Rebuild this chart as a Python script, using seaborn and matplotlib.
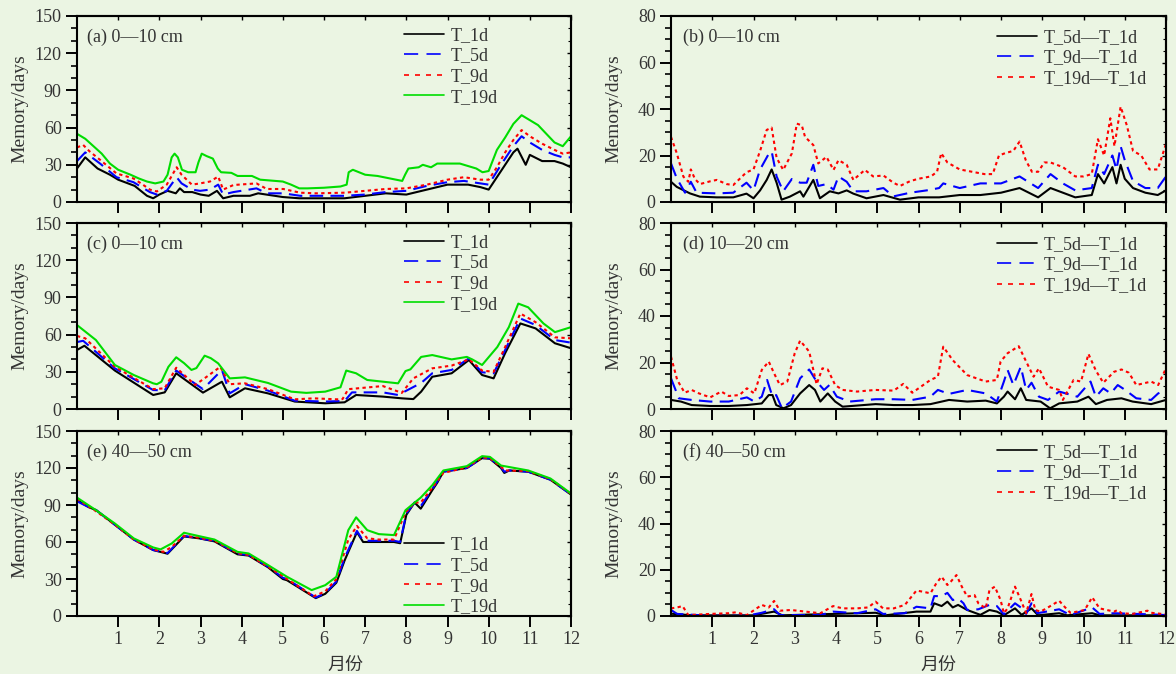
import numpy as np
import pandas as pd
import matplotlib
matplotlib.use('Agg')
import matplotlib.pyplot as plt
from matplotlib.lines import Line2D
from matplotlib.ticker import MultipleLocator
import seaborn as sns

# ---------------- data: (month, memory days) ----------------
# panel (a) 0-10 cm
A_T1D = [(0,27),(0.2,36),(0.5,27),(0.8,22),(1.0,18),(1.4,13),(1.7,5),(1.85,3),(2.0,6),(2.2,9),(2.4,7),(2.5,11),(2.6,8),
         (2.8,8),(3.0,6),(3.2,5),(3.4,9),(3.55,3),(3.8,5),(4.2,5),(4.4,7),(4.8,5),(5.0,4),(5.4,3),(6.5,3),(7.0,5),(7.5,7),
         (8.0,6),(8.5,10),(9.0,14),(9.5,14),(9.8,12),(10.0,10),(10.3,25),(10.6,40),(10.7,43),(10.9,30),(11.0,38),(11.3,33),
         (11.6,33),(11.8,31),(12.0,28)]
A_T5D = [(0,33),(0.2,40),(0.56,31),(0.96,20),(1.37,16),(1.77,8),(1.94,6),(2.18,9),(2.42,20),(2.54,15),(2.79,10),(2.99,9),
         (3.23,10),(3.43,14),(3.55,6),(3.8,8),(4.36,11),(4.61,7),(5.01,7),(5.42,5),(6.5,5),(7.0,6),(7.5,8),(8.0,9),(8.5,13),
         (9.0,16),(9.4,17),(9.8,15),(10.0,14),(10.3,30),(10.6,45),(10.8,53),(11.0,48),(11.3,42),(11.6,38),(11.8,36),(12.0,36)]
A_T9D = [(0,44),(0.15,46),(0.3,41),(0.56,34),(0.96,23),(1.37,19),(1.6,14),(1.77,10),(1.94,8.5),(2.18,14),(2.42,28),
         (2.54,22),(2.79,14),(2.99,15),(3.23,16.5),(3.43,20.5),(3.55,10),(3.8,13.7),(4.36,15),(4.61,10.5),(5.01,10.5),
         (5.42,7.5),(5.8,7),(6.5,7.5),(7.0,9),(7.5,10.5),(8.0,11),(8.5,14),(9.0,18),(9.4,20),(9.8,18),(10.0,18),(10.2,28),
         (10.4,40),(10.6,50),(10.8,58),(11.0,53),(11.3,47),(11.6,42),(11.8,39),(12.0,40)]
A_T19D = [(0,55),(0.2,51),(0.4,45),(0.6,39),(0.8,31),(1.0,26),(1.3,22),(1.5,19),(1.7,16.5),(1.9,15),(2.1,16.5),(2.2,22),
          (2.3,36),(2.37,39),(2.45,36),(2.55,26),(2.7,24),(2.88,24),(2.95,32),(3.03,39),(3.15,37),(3.3,35),(3.42,27),
          (3.5,24),(3.75,23.5),(3.9,21),(4.25,21),(4.45,18),(5.0,16.5),(5.2,14),(5.4,11),(5.6,11),(6.0,11.5),(6.4,12.5),
          (6.55,14),(6.6,24),(6.7,26),(7.0,22),(7.3,21),(7.6,19),(7.9,17),(7.97,22),(8.05,27),(8.3,28),(8.4,30),(8.6,28),
          (8.75,31),(9.0,31),(9.3,31),(9.5,29),(9.7,27),(9.85,24),(10.0,25),(10.2,42),(10.4,52),(10.6,63),(10.8,70),
          (11.0,66),(11.2,62),(11.4,55),(11.6,48),(11.8,45),(12.0,53)]

# panel (c)
C_T1D = [(0,47.6),(0.18,51),(0.92,31),(1.85,11.3),(2.13,13.4),(2.41,28.8),(3.06,13.2),(3.52,22),(3.71,9.4),(4.08,16.7),
         (4.64,12.6),(5.29,6),(6.03,4.6),(6.5,5.4),(6.78,11.3),(7.43,10),(7.89,8.6),(8.17,8),(8.36,14),(8.63,26),(9.1,28.8),
         (9.52,39.5),(9.84,27.4),(10.12,24.7),(10.4,45),(10.77,69),(11.14,65),(11.61,53),(12,49)]
C_T5D = [(0,54),(0.15,55),(0.92,32.8),(1.85,15.3),(2.13,15),(2.41,31),(3.06,16),(3.52,31.5),(3.71,12.6),(4.08,20),
         (4.64,14.8),(5.29,6.7),(6.03,6),(6.5,6.5),(6.68,13.4),(7.43,13.4),(7.8,11.3),(8.36,21),(8.63,28.8),(9.1,31.5),
         (9.52,40.8),(9.84,29.6),(10.12,28.8),(10.4,47.6),(10.77,73),(11.14,67.7),(11.61,55.6),(12,53.5)]
C_T9D = [(0,58.9),(0.2,57),(0.92,34),(1.85,16),(2.13,16.7),(2.41,33.3),(2.87,19.4),(3.15,26),(3.48,34),(3.71,20),
         (4.08,20.7),(4.64,16),(5.29,7.8),(5.75,8.6),(6.31,7.8),(6.45,8),(6.59,16),(7.43,18.5),(7.89,13),(8.17,24.7),
         (8.63,32.8),(9.1,35),(9.52,40),(9.84,31),(10.12,30),(10.4,50),(10.77,77),(11.14,70),(11.61,57.8),(12,57)]
C_T19D = [(0,67.7),(0.46,55.6),(0.92,35.5),(1.38,27.4),(1.85,20.7),(1.94,20),(2.05,22),(2.22,34),(2.41,41.7),(2.6,37),
          (2.78,31.5),(2.9,33),(3.1,43),(3.25,41),(3.43,36.8),(3.71,24.7),(4.08,25.5),(4.64,21),(5.2,14),(5.57,13),
          (6.03,14),(6.4,17.5),(6.54,31),(6.78,28.8),(7.05,23.4),(7.8,20.7),(7.98,30.6),(8.1,32),(8.36,42),(8.63,43.5),
          (9.1,40),(9.47,42),(9.6,40),(9.84,35.5),(10.21,50),(10.49,66),(10.72,85),(10.96,82),(11.33,69),(11.61,62),(12,66)]

# panel (e) 40-50 cm
E_T1D = [(0,94),(0.3,88),(0.46,86),(0.92,74),(1.38,62),(1.85,53.5),(2.2,50.5),(2.6,64.5),(2.96,63),(3.34,60.5),(3.9,50),
         (4.17,49),(4.64,39.5),(5.0,30),(5.1,29),(5.8,14.5),(6.03,18),(6.3,27),(6.5,45),(6.8,68),(6.95,60),(7.33,60),
         (7.7,60),(7.85,59),(8.0,82),(8.2,92),(8.35,87),(8.63,102),(8.75,108),(8.9,117),(9.47,120),(9.84,128),(10.03,127.5),
         (10.3,120),(10.38,116),(10.5,118),(10.96,117),(11.5,110.5),(12,98.5)]
E_T5D = [(0,93),(0.3,88),(0.46,86),(0.92,74),(1.38,62),(1.85,53.5),(2.2,51),(2.6,65),(2.96,63),(3.34,61),(3.9,50.5),
         (4.17,49.5),(4.64,40),(5.0,31),(5.1,30),(5.8,15),(6.03,18.5),(6.3,28),(6.5,47),(6.8,69),(6.95,61),(7.33,61),
         (7.7,61),(7.85,60),(8.0,83),(8.2,92),(8.35,89),(8.63,103),(8.75,109),(8.9,117),(9.47,120),(9.84,128),(10.03,128),
         (10.3,120.5),(10.38,117),(10.5,118),(10.96,117),(11.5,110.5),(12,98.5)]
E_T9D = [(0,95),(0.46,85),(0.92,74),(1.38,62),(1.85,54),(2.1,52),(2.3,56),(2.6,65),(2.96,63.5),(3.34,61),(3.9,51),
         (4.17,49.5),(4.64,40),(5.1,30),(5.75,16),(6.03,20),(6.3,30),(6.59,62),(6.8,73),(7.05,63),(7.33,62),(7.7,62),
         (7.98,84),(8.2,92),(8.35,92),(8.63,104),(8.9,116),(9.47,120.5),(9.84,128.5),(10.03,128),(10.3,121),(10.4,118),
         (10.96,117.5),(11.5,111),(12,99)]
E_T19D = [(0,96),(0.46,85.8),(0.92,75),(1.38,62.9),(1.85,55.6),(2.03,54),(2.3,58.8),(2.6,67.5),(2.96,64.8),(3.34,62),
          (3.9,52),(4.17,50.7),(4.64,41.3),(5.1,31.8),(5.7,21),(6.03,25),(6.3,31.8),(6.59,69.6),(6.78,80),(7.05,69.6),
          (7.33,66.4),(7.7,65.6),(7.98,85.8),(8.35,96),(8.63,106),(8.9,118),(9.47,121.5),(9.84,129.6),(10.03,129),
          (10.3,122),(10.96,118),(11.5,111.5),(12,99.3)]

# panel (b) differences 0-10 cm
B_D5 = [(0,8.7),(0.14,6.5),(0.46,3.7),(0.7,2.3),(1.11,2),(1.51,2),(1.83,3.6),(2.0,1.6),(2.16,5),(2.32,9.5),(2.44,14),
        (2.56,8.3),(2.68,1),(2.88,2.3),(3.13,4.6),(3.21,2.3),(3.45,9.5),(3.61,1.6),(3.85,4.6),(4.06,3.7),(4.26,5),(4.42,3.6),
        (4.74,1.6),(5.15,3),(5.55,1),(6.0,2),(6.5,2),(7.0,3),(7.5,3),(8.0,4),(8.45,6),(8.9,2),(9.2,6),(9.5,4),(9.8,2),
        (10.2,3),(10.35,12),(10.5,8),(10.7,15),(10.8,8),(10.9,16),(11.0,10),(11.2,6),(11.5,4),(11.8,3),(12.0,5)]
B_D9 = [(0,16.6),(0.14,10.2),(0.34,4),(0.48,8.7),(0.62,4),(1.11,3.7),(1.51,4),(1.83,8.3),(2.0,5),(2.16,14),(2.36,20.4),
        (2.44,21.8),(2.56,11),(2.72,4.6),(2.93,9.9),(3.13,8.3),(3.29,8.3),(3.45,16),(3.57,6.9),(3.77,7.7),(3.94,5.3),
        (4.06,11),(4.26,8.7),(4.42,4.6),(4.74,4.6),(5.15,6),(5.39,2.4),(5.8,4),(6.2,5),(6.5,6),(6.6,8),(7.0,6),(7.5,8),
        (8.0,8),(8.45,11),(8.9,6),(9.2,12),(9.5,8),(9.8,5),(10.2,6),(10.35,16),(10.5,12),(10.7,20),(10.8,14),(10.9,24),
        (11.0,18),(11.2,9),(11.5,6),(11.8,6),(12.0,11)]
B_D19 = [(0,28),(0.14,21),(0.3,10.9),(0.42,8.7),(0.48,14),(0.58,9.9),(0.7,7.7),(0.95,8.9),(1.11,9.5),(1.35,7.7),(1.51,7.3),
         (1.83,12.8),(2.0,14),(2.16,22),(2.32,31),(2.44,32),(2.56,19),(2.72,13.8),(2.93,20.9),(3.05,33.7),(3.17,33),
         (3.25,28),(3.45,24.5),(3.57,16.6),(3.77,19.4),(3.94,13.8),(4.06,18),(4.26,16),(4.42,9.5),(4.7,13.8),(4.9,11),
         (5.15,11.4),(5.39,8.3),(5.55,6.9),(5.8,9),(6.0,10),(6.3,11),(6.45,13),(6.55,21),(6.7,17),(7.0,14),(7.3,13),
         (7.6,12),(7.8,12),(7.95,20),(8.1,21),(8.3,22),(8.45,26),(8.6,18),(8.75,13),(8.9,13),(9.05,17),(9.2,17),(9.5,15),
         (9.8,11),(10.0,11),(10.2,12),(10.35,27),(10.5,20),(10.65,36),(10.75,24),(10.9,41),(11.05,33),(11.2,22),(11.4,20),
         (11.6,14),(11.8,14),(12.0,25)]

# panel (d) differences 10-20 cm
D_D5 = [(0,3.9),(0.24,3.2),(0.5,1.7),(0.95,1.3),(1.4,1.3),(1.84,1.7),(2.2,2.4),(2.37,6),(2.46,6),(2.55,1.7),(2.73,0.3),
        (2.91,1.7),(3.13,6.7),(3.35,10.3),(3.49,8.2),(3.62,3.2),(3.8,6.7),(3.98,3.2),(4.16,1),(4.96,2.1),(5.4,1.7),
        (5.85,1.7),(6.29,2.1),(6.74,3.9),(7.18,3.2),(7.63,3.6),(7.9,2.4),(8.07,5.3),(8.16,7.5),(8.34,4.2),(8.48,8.9),
        (8.61,3.9),(8.96,3.2),(9.19,0.3),(9.41,2.4),(9.85,3.2),(10.12,5.3),(10.3,2.1),(10.57,3.9),(10.92,4.6),(11.19,3.2),
        (11.64,2.1),(12,3.9)]
D_D9 = [(0,13.2),(0.19,4.6),(0.5,3.9),(0.95,3.2),(1.4,3.2),(1.84,5),(2.02,3.2),(2.2,5.3),(2.33,12.5),(2.46,5.3),(2.55,6),
        (2.69,0.3),(2.91,3.2),(3.13,13.2),(3.35,17),(3.53,11.8),(3.71,8.2),(3.84,10.3),(4.02,5.3),(4.33,3.2),(4.96,4.2),
        (5.4,4.2),(5.85,3.9),(6.29,5.3),(6.47,8.2),(6.74,6.5),(7.18,8.2),(7.63,6.7),(7.9,3.2),(8.07,11.8),(8.16,16.8),
        (8.3,10.3),(8.48,18.2),(8.61,8.2),(8.74,11.3),(8.92,5.3),(9.14,3.9),(9.41,7.5),(9.85,5.3),(10.17,11.8),(10.3,5.3),
        (10.48,8.9),(10.66,6.7),(10.83,10.3),(11.01,8.2),(11.28,4.6),(11.64,3.9),(11.81,6.7),(12,8.2)]
D_D19 = [(0,22.5),(0.15,12.5),(0.33,7),(0.5,8.2),(0.68,6.7),(0.95,5),(1.22,7.5),(1.4,5.6),(1.66,6),(1.84,8.9),(2.02,6.7),
         (2.2,16.8),(2.37,20.4),(2.5,15.3),(2.64,10.3),(2.82,11.8),(3.0,24),(3.13,29.4),(3.35,24.7),(3.53,10.6),(3.67,17.5),
         (3.8,17),(3.98,10.3),(4.16,8.2),(4.51,7.5),(4.96,8.2),(5.4,7.9),(5.63,10.8),(5.85,7),(6.29,12.5),(6.47,13.9),
         (6.6,26.8),(6.83,21),(7.18,14.6),(7.63,11.8),(7.9,12.5),(7.99,20.4),(8.16,24),(8.43,27),(8.61,20.4),(8.79,13.9),
         (8.92,17.5),(9.14,9.6),(9.41,8.2),(9.5,3.9),(9.76,12.5),(9.94,11.8),(10.12,23.7),(10.3,16.5),(10.48,11.3),
         (10.74,16),(10.92,17),(11.1,15.6),(11.28,10.3),(11.64,11.8),(11.81,10.3),(12,17.5)]

# panel (f) differences 40-50 cm
F_D5 = [(0,1),(0.5,0.3),(2.0,0.3),(2.5,1.9),(2.7,0.3),(4.96,1.4),(5.2,0.3),(5.95,1.9),(6.29,1.9),(6.38,5.5),(6.56,4.3),
        (6.7,6.2),(6.83,3.7),(6.96,4.8),(7.18,2.6),(7.5,0.5),(7.72,2.6),(7.9,1.9),(8.07,0.3),(8.34,3.3),(8.5,0.5),
        (8.74,3.3),(8.9,0.3),(9.41,1.2),(9.6,0.3),(10.21,1.2),(10.4,0.3),(12,0.3)]
F_D9 = [(0,2.6),(0.15,0.9),(0.95,0.1),(1.84,0.1),(2.2,1.4),(2.5,2.9),(2.64,0.4),(3.62,0.4),(3.93,1.9),(4.51,1.2),(4.96,2.9),
        (5.14,0.9),(5.67,1.2),(5.95,4),(6.29,3.3),(6.38,8.6),(6.56,8.6),(6.7,10),(6.83,6.9),(6.96,7.6),(7.09,5.5),(7.18,2.6),
        (7.45,2.9),(7.72,4.8),(7.9,4.3),(8.07,0.7),(8.34,5.5),(8.48,3.7),(8.61,0.9),(8.74,5.5),(8.88,1.2),(9.41,2.9),
        (9.68,0.4),(10.21,3.7),(10.39,0.9),(10.74,1.2),(11.64,0.7),(12,0.4)]
F_D19 = [(0,3.3),(0.15,3.7),(0.28,4.3),(0.42,0.4),(0.95,0.9),(1.4,1.2),(1.57,1.6),(1.84,0.4),(2.2,4.8),(2.37,3.7),(2.5,6.5),
         (2.64,2.3),(2.91,2.6),(3.26,1.9),(3.62,1.2),(3.93,4.3),(4.16,3.3),(4.51,3.3),(4.78,3.7),(4.96,6.2),(5.14,3.3),
         (5.4,3.3),(5.67,4.8),(5.95,11),(6.11,10.5),(6.29,9.8),(6.43,14.1),(6.56,17),(6.7,13.4),(6.78,14.8),(6.92,17.7),
         (7.05,12.7),(7.18,8.4),(7.36,9),(7.45,5.5),(7.63,3.3),(7.72,11.2),(7.85,12.7),(7.99,6.9),(8.07,1.2),(8.16,3.3),
         (8.34,12.7),(8.48,6.9),(8.61,1.2),(8.74,9.5),(8.83,2.6),(8.96,1.9),(9.14,3.7),(9.41,6.6),(9.54,4),(9.68,1.4),
         (9.85,1.9),(10.03,2.6),(10.21,8.1),(10.39,3.3),(10.74,1.9),(10.83,2.6),(10.92,1.2),(11.19,0.9),(11.55,2.3),
         (11.64,1.4),(12,0.7)]

LEFT_NAMES = ['T_1d', 'T_5d', 'T_9d', 'T_19d']
RIGHT_NAMES = ['T_5d\u2014T_1d', 'T_9d\u2014T_1d', 'T_19d\u2014T_1d']
MONTH_TICKS = list(range(1, 13))
PANEL_TITLES = ['(a) 0\u201410 cm', '(b) 0\u201410 cm', '(c) 0\u201410 cm',
                '(d) 10\u201420 cm', '(e) 40\u201450 cm', '(f) 40\u201450 cm']

# ---------------- style ----------------
BG = '#ebf5e3'
TXT = '#333333'
sns.set_theme(style='ticks')
plt.rcParams['font.family'] = ['Liberation Serif', 'Noto Sans CJK SC', 'DejaVu Sans']
plt.rcParams['axes.unicode_minus'] = False

LEFT_COLORS = {'T_1d': '#000000', 'T_5d': '#0000ff', 'T_9d': '#ff0000', 'T_19d': '#00dd00'}
RIGHT_COLORS = dict(zip(RIGHT_NAMES, ['#000000', '#0000ff', '#ff0000']))
DASH_PLOT = {'solid': '', 'dash': (6.5, 3.5), 'dot': (1.6, 1.6)}
LEFT_STYLE = {'T_1d': 'solid', 'T_5d': 'dash', 'T_9d': 'dot', 'T_19d': 'solid'}
RIGHT_STYLE = dict(zip(RIGHT_NAMES, ['solid', 'dash', 'dot']))
LEG_LS = {'solid': '-', 'dash': (0, (8.5, 5)), 'dot': (0, (3, 3.6))}


def long_df(names, series):
    rows = []
    for n, s in zip(names, series):
        for m, v in s:
            rows.append({'month': m, 'value': v, 'series': n})
    return pd.DataFrame(rows)


fig = plt.figure(figsize=(11.76, 6.74), dpi=100, facecolor=BG)
W, H = 1176.0, 674.0
cols = [(77, 494), (671, 495)]
rows = [(16, 202), (223, 409), (431, 616)]

panels = [
    (0, 0, LEFT_NAMES, [A_T1D, A_T5D, A_T9D, A_T19D], 'L', 0),
    (0, 1, RIGHT_NAMES, [B_D5, B_D9, B_D19], 'R', 1),
    (1, 0, LEFT_NAMES, [C_T1D, C_T5D, C_T9D, C_T19D], 'L', 2),
    (1, 1, RIGHT_NAMES, [D_D5, D_D9, D_D19], 'R', 3),
    (2, 0, LEFT_NAMES, [E_T1D, E_T5D, E_T9D, E_T19D], 'L', 4),
    (2, 1, RIGHT_NAMES, [F_D5, F_D9, F_D19], 'R', 5),
]

for r, c, names, series, side, idx in panels:
    x0, w = cols[c]
    top, bot = rows[r]
    ax = fig.add_axes([x0 / W, 1 - bot / H, w / W, (bot - top) / H])
    ax.set_facecolor(BG)
    df = long_df(names, series)
    colors = LEFT_COLORS if side == 'L' else RIGHT_COLORS
    styles = LEFT_STYLE if side == 'L' else RIGHT_STYLE
    sns.lineplot(data=df, x='month', y='value', hue='series', style='series',
                 hue_order=names, style_order=names, palette=colors,
                 dashes={n: DASH_PLOT[styles[n]] for n in names},
                 estimator=None, sort=True, linewidth=1.5, legend=False, ax=ax)
    ax.set_xlim(0, 12)
    if side == 'L':
        ax.set_ylim(0, 150)
        ax.yaxis.set_major_locator(MultipleLocator(30))
        ax.yaxis.set_minor_locator(MultipleLocator(10))
    else:
        ax.set_ylim(0, 80)
        ax.yaxis.set_major_locator(MultipleLocator(20))
        ax.yaxis.set_minor_locator(MultipleLocator(5))
    ax.set_xticks(MONTH_TICKS)
    ax.tick_params(axis='both', which='major', direction='out', length=8, width=1.4,
                   color='black', labelsize=13, labelcolor=TXT, pad=3)
    ax.tick_params(axis='y', which='minor', direction='out', length=4, width=1.2, color='black')
    if r < 2:
        ax.tick_params(axis='x', labelbottom=False)
        ax.set_xlabel('')
    else:
        ax.set_xlabel('月份', fontsize=13, color=TXT,
                      family=['Noto Sans CJK SC', 'DejaVu Sans'])
        ax.xaxis.set_label_coords(0.5425 if c == 0 else 0.541, -0.215)
    ax.set_ylabel('Memory/days', fontsize=14, color=TXT)
    ax.yaxis.set_label_coords(-0.098 if c == 0 else -0.099, 0.5)
    for sp in ax.spines.values():
        sp.set_visible(True)
        sp.set_linewidth(1.5)
        sp.set_color('black')

    # inward ticks on top and right frame
    sx = ax.secondary_xaxis('top')
    sx.set_xticks(MONTH_TICKS)
    sx.tick_params(direction='in', length=3, width=1, labeltop=False, color='black')
    sx.spines['top'].set_linewidth(1.5)
    sy = ax.secondary_yaxis('right')
    sy.yaxis.set_major_locator(ax.yaxis.get_major_locator())
    sy.yaxis.set_minor_locator(ax.yaxis.get_minor_locator())
    sy.tick_params(which='major', direction='in', length=3, width=1, labelright=False, color='black')
    sy.tick_params(which='minor', direction='in', length=2, width=0.8, labelright=False, color='black')
    sy.spines['right'].set_linewidth(1.5)

    ax.text(0.02 if c == 0 else 0.024, 0.887, PANEL_TITLES[idx], transform=ax.transAxes,
            fontsize=13, color=TXT, va='center', ha='left')

    handles = [Line2D([0, 1], [0, 0], color=colors[n], lw=1.2, linestyle=LEG_LS[styles[n]]) for n in names]
    if side == 'L' and r == 2:
        anchor = (0.662, 0.43)
    elif side == 'L':
        anchor = (0.662, 0.941)
    else:
        anchor = (0.659, 0.931)
    ax.legend(handles, names, loc='upper left', bbox_to_anchor=anchor, frameon=False,
              fontsize=13, handlelength=2.2, handletextpad=0.4, labelspacing=0.2,
              borderaxespad=0, borderpad=0, labelcolor=TXT)

fig.savefig('out.png', dpi=100, facecolor=BG)
